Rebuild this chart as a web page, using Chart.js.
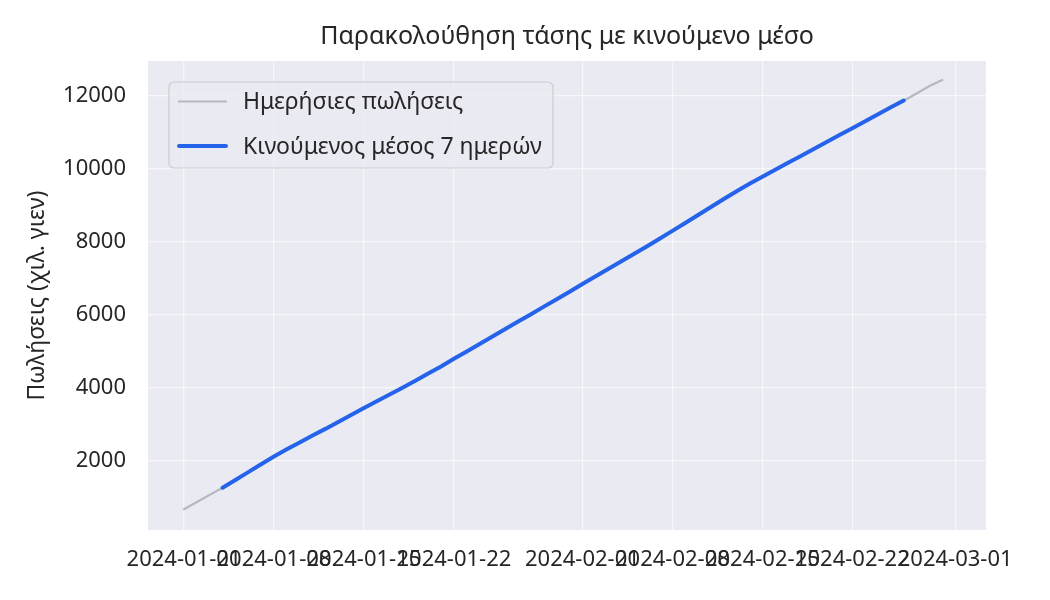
<!DOCTYPE html>
<html>
<head>
<meta charset="utf-8">
<script src="https://cdn.jsdelivr.net/npm/chart.js@4.4.1/dist/chart.umd.min.js"></script>
<style>
html,body{margin:0;padding:0;background:#ffffff;}
#wrap{width:1050px;height:600px;}
</style>
</head>
<body>
<div id="wrap"><canvas id="c" width="1050" height="600"></canvas></div>
<script>
const titleText = 'Παρακολούθηση τάσης με κινούμενο μέσο';
const yAxisTitle = 'Πωλήσεις (χιλ. γιεν)';
const seriesNames = ['Ημερήσιες πωλήσεις', 'Κινούμενος μέσος 7 ημερών'];
const tickDays = [0, 7, 14, 21, 31, 38, 45, 52, 60];
const tickLabels = ['2024-01-01','2024-01-08','2024-01-15','2024-01-22','2024-02-01','2024-02-08','2024-02-15','2024-02-22','2024-03-01'];
const yTicks = [2000, 4000, 6000, 8000, 10000, 12000];
const dailySales = [677, 875, 1072, 1268, 1478, 1700, 1905, 2130, 2315, 2515,
  2695, 2885, 3065, 3265, 3445, 3645, 3820, 4015, 4195, 4400,
  4585, 4805, 4995, 5210, 5405, 5620, 5815, 6025, 6225, 6440,
  6635, 6855, 7050, 7265, 7460, 7675, 7875, 8095, 8300, 8525,
  8735, 8965, 9175, 9395, 9590, 9795, 9975, 10175, 10355, 10555,
  10735, 10935, 11115, 11315, 11495, 11695, 11870, 12070, 12273, 12437];
const movingAvg = [null, null, null, 1268, 1480, 1695, 1910, 2125, 2320, 2510,
  2700, 2880, 3070, 3260, 3450, 3640, 3825, 4010, 4200, 4395,
  4590, 4800, 5000, 5205, 5410, 5615, 5820, 6020, 6230, 6435,
  6640, 6850, 7055, 7260, 7465, 7670, 7880, 8090, 8305, 8520,
  8740, 8960, 9180, 9390, 9595, 9790, 9980, 10170, 10360, 10550,
  10740, 10930, 11120, 11310, 11500, 11690, 11875, null, null, null];

const dayIndex = dailySales.map((_, i) => i);
const FONT = "'Noto Sans', 'Open Sans', sans-serif";
const TXT = '#262626';
const grayColor = 'rgb(182,183,192)';
const blueColor = '#2563eb';
const GRID = 'rgba(255,255,255,0.6)';

const bgPlugin = {
  id: 'bg',
  beforeDraw(chart) {
    const {ctx, chartArea: a} = chart;
    ctx.save();
    ctx.fillStyle = '#eaeaf2';
    ctx.fillRect(a.left, a.top, a.right - a.left, a.bottom - a.top);
    ctx.restore();
  },
  afterDraw(chart) {
    const {ctx, chartArea: a} = chart;
    ctx.save();
    ctx.font = '25px ' + FONT;
    ctx.fillStyle = TXT;
    ctx.textAlign = 'center';
    ctx.textBaseline = 'middle';
    ctx.fillText(titleText, (a.left + a.right) / 2, 37);
    ctx.restore();
  }
};

const legendPlugin = {
  id: 'boxLegend',
  afterDraw(chart) {
    const {ctx, chartArea: a} = chart;
    const x = a.left + 21, y = a.top + 21, w = 384, h = 86, r = 5;
    ctx.save();
    ctx.beginPath();
    ctx.moveTo(x + r, y);
    ctx.arcTo(x + w, y, x + w, y + h, r);
    ctx.arcTo(x + w, y + h, x, y + h, r);
    ctx.arcTo(x, y + h, x, y, r);
    ctx.arcTo(x, y, x + w, y, r);
    ctx.closePath();
    ctx.fillStyle = 'rgba(234,234,242,0.8)';
    ctx.fill();
    ctx.strokeStyle = '#cccccc';
    ctx.lineWidth = 1.2;
    ctx.stroke();
    const rows = [y + 19.5, y + 64];
    ctx.font = '23px ' + FONT;
    ctx.textBaseline = 'middle';
    ctx.fillStyle = TXT;
    chart.data.datasets.forEach((ds, i) => {
      ctx.beginPath();
      ctx.moveTo(x + 10, rows[i]);
      ctx.lineTo(x + 57, rows[i]);
      ctx.strokeStyle = ds.borderColor;
      ctx.lineWidth = ds.borderWidth;
      ctx.lineCap = 'round';
      ctx.stroke();
      ctx.fillText(ds.label, x + 74, rows[i] + 1);
    });
    ctx.restore();
  }
};

new Chart(document.getElementById('c'), {
  type: 'line',
  data: {
    datasets: [
      {
        label: seriesNames[0],
        data: dayIndex.map(i => ({x: i, y: dailySales[i]})),
        borderColor: grayColor,
        backgroundColor: grayColor,
        borderWidth: 2.2,
        pointRadius: 0,
        tension: 0,
        order: 1,
        borderCapStyle: 'round'
      },
      {
        label: seriesNames[1],
        data: dayIndex.map(i => ({x: i, y: movingAvg[i]})),
        borderColor: blueColor,
        backgroundColor: blueColor,
        borderWidth: 4,
        pointRadius: 0,
        tension: 0,
        spanGaps: false,
        order: 0,
        borderCapStyle: 'round'
      }
    ]
  },
  plugins: [bgPlugin, legendPlugin],
  options: {
    responsive: false,
    animation: false,
    devicePixelRatio: 1,
    layout: {padding: {left: 0, right: 64, top: 61, bottom: 0}},
    plugins: {
      legend: {display: false},
      tooltip: {enabled: false},
      title: {display: false}
    },
    scales: {
      x: {
        type: 'linear',
        min: -2.8,
        max: 62.4,
        afterFit(s) { s.height = 70; },
        afterBuildTicks(s) { s.ticks = tickDays.map(v => ({value: v})); },
        ticks: {
          autoSkip: false,
          maxRotation: 0,
          minRotation: 0,
          padding: 17,
          color: TXT,
          font: {family: FONT, size: 22},
          callback: (v) => tickLabels[tickDays.indexOf(v)]
        },
        grid: {color: GRID, lineWidth: 1.3, drawTicks: false},
        border: {display: false}
      },
      y: {
        type: 'linear',
        min: 110,
        max: 12960,
        afterFit(s) { s.width = 148; },
        afterBuildTicks(s) { s.ticks = yTicks.map(v => ({value: v})); },
        ticks: {
          padding: 22,
          color: TXT,
          font: {family: FONT, size: 22},
          callback: (v) => String(v)
        },
        grid: {color: GRID, lineWidth: 1.3, drawTicks: false},
        border: {display: false},
        title: {
          display: true,
          text: yAxisTitle,
          color: TXT,
          font: {family: FONT, size: 23},
          padding: {top: 24, bottom: 0}
        }
      }
    }
  }
});
</script>
</body>
</html>
